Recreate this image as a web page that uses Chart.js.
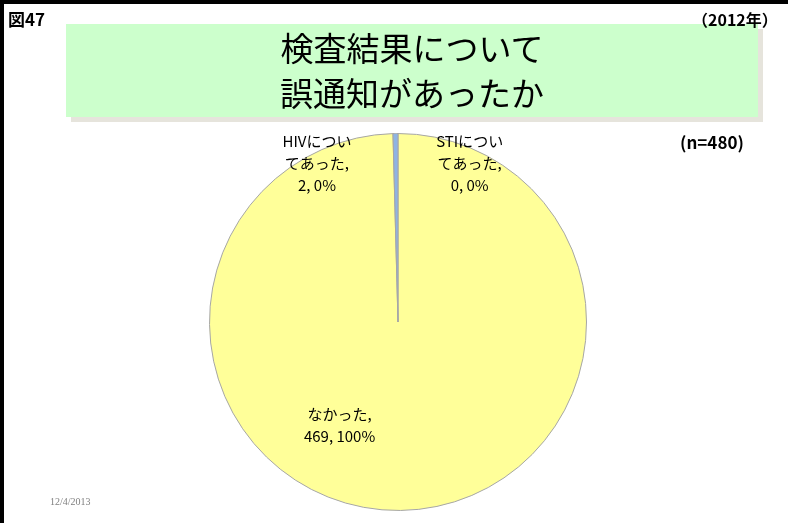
<!DOCTYPE html>
<html><head><meta charset="utf-8">
<script src="https://cdn.jsdelivr.net/npm/chart.js@4/dist/chart.umd.min.js"></script>
<style>
html,body{margin:0;padding:0;background:#fff;}
#wrap{position:relative;width:788px;height:523px;overflow:hidden;font-family:"Noto Sans CJK JP","Noto Sans",sans-serif;}
#frameTop{position:absolute;left:0;top:0;width:788px;height:4px;background:#000;}
#frameLeft{position:absolute;left:0;top:0;width:4px;height:523px;background:#000;}
#fig{position:absolute;left:8px;top:9px;font-size:17px;font-weight:bold;color:#000;line-height:20px;}
#year{position:absolute;left:692px;top:9px;font-size:16px;font-weight:bold;color:#000;line-height:20px;}
#n{position:absolute;left:680px;top:131px;font-size:17px;font-weight:bold;color:#000;line-height:22px;}
#shadow{position:absolute;left:71px;top:29px;width:692px;height:93px;background:#e6e4dc;}
#box{position:absolute;left:66px;top:24px;width:692px;height:93px;background:#ccffcc;text-align:center;font-size:33px;line-height:45px;color:#000;}
#box div{padding-top:1px;}
#date{position:absolute;left:50px;top:496px;font-family:"Liberation Serif",serif;font-size:10px;color:#808080;}
canvas{position:absolute;left:0;top:0;}
</style></head><body>
<div id="wrap">
<canvas id="c" width="788" height="523"></canvas>
<div id="frameTop"></div><div id="frameLeft"></div>
<div id="shadow"></div>
<div id="box"><div>検査結果について<br>誤通知があったか</div></div>
<div id="fig">図47</div>
<div id="year">（2012年）</div>
<div id="n">(n=480)</div>
<div id="date">12/4/2013</div>
</div>
<script>
const categories = ["なかった", "HIVについてあった", "STIについてあった"];
const labelLines = [["なかった,"], ["HIVについ", "てあった,"], ["STIについ", "てあった,"]];
const counts = [469, 2, 0];
const percents = ["100%", "0%", "0%"];

const labelOffsets = [[-0.31, 0.55], [-0.43, -0.84], [0.38, -0.84]];

const labelPlugin = {
  id: 'sliceLabels',
  afterDatasetsDraw(chart) {
    const ctx = chart.ctx;
    const meta = chart.getDatasetMeta(0);
    ctx.save();
    ctx.fillStyle = '#000';
    ctx.font = '15px "Noto Sans CJK JP", "Noto Sans", sans-serif';
    ctx.textAlign = 'center';
    ctx.textBaseline = 'middle';
    meta.data.forEach((arc, i) => {
      const r = arc.outerRadius;
      const x = arc.x + labelOffsets[i][0] * r;
      const y = arc.y + labelOffsets[i][1] * r;
      const lines = labelLines[i].concat([counts[i] + ", " + percents[i]]);
      const lh = 22;
      const y0 = y - (lines.length - 1) * lh / 2;
      lines.forEach((t, k) => ctx.fillText(t, x, y0 + k * lh));
    });
    ctx.restore();
  }
};

new Chart(document.getElementById('c'), {
  type: 'pie',
  data: {
    labels: categories,
    datasets: [{
      data: counts,
      backgroundColor: ['#ffff99', '#8eb4e3', '#ffff99'],
      borderColor: '#a6a6a6',
      borderWidth: 1
    }]
  },
  options: {
    responsive: false,
    animation: false,
    layout: { padding: { top: 133, bottom: 12, left: 8, right: 0 } },
    plugins: { legend: { display: false }, tooltip: { enabled: false }, title: { display: false } }
  },
  plugins: [labelPlugin]
});
</script>
</body></html>
